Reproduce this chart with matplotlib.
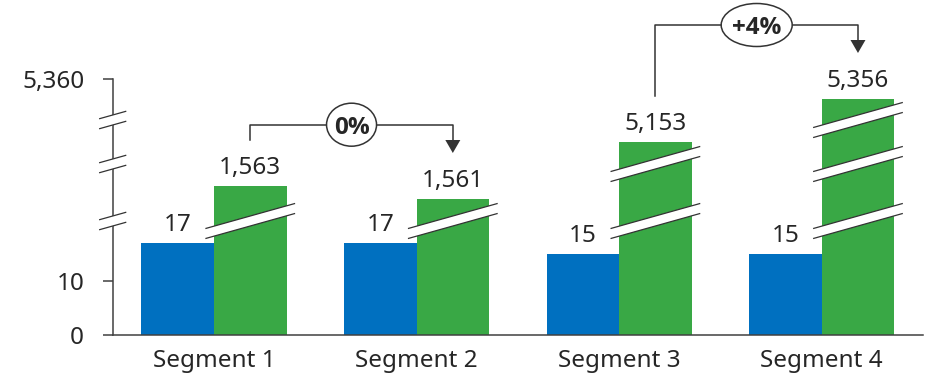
import numpy as np
import matplotlib
matplotlib.use('Agg')
import matplotlib.pyplot as plt
from matplotlib.patches import Polygon, Ellipse
from matplotlib.lines import Line2D
from matplotlib.transforms import IdentityTransform

segments = ['Segment 1', 'Segment 2', 'Segment 3', 'Segment 4']
small = [17, 17, 15, 15]
large = [1563, 1561, 5153, 5356]
change_pairs = [(0, 1), (2, 3)]
change_labels = ['0%', '+4%']
y_ticks = [0, 10, 5360]

# broken (think-cell style) value axis: value -> pixel height above zero
knot_vals = [0, 20, 1561, 1563, 5153, 5356, 5360]
knot_px = [0, 108.6, 136, 149.3, 192.7, 236, 256]
break_px = [114, 171, 215]

BLUE = '#0070C0'
GREEN = '#39A845'
DARK = '#262626'
LINE = '#404040'
FS = 17.5

plt.rcParams['font.family'] = ['Noto Sans', 'DejaVu Sans']
plt.rcParams['text.color'] = DARK


def fwd(v):
    return np.interp(v, knot_vals, knot_px)


def inv(h):
    return np.interp(h, knot_px, knot_vals)


W, H = 933, 382
fig = plt.figure(figsize=(W / 100, H / 100), dpi=100)
ax = fig.add_axes([112.7 / W, 47 / H, 810.3 / W, 256 / H])
ax.set_yscale('function', functions=(fwd, inv))
ax.set_xlim(-0.5, 3.5)
ax.set_ylim(0, 5360)

x = np.arange(len(segments))
w = 0.358
ax.bar(x - w / 2, small, w, color=BLUE, zorder=2)
ax.bar(x + w / 2, large, w, color=GREEN, zorder=2)

for xs, vals in ((x - w / 2, small), (x + w / 2, large)):
    for xi, v in zip(xs, vals):
        ax.annotate('{:,}'.format(v), (xi, v), xytext=(0, 8.6),
                    textcoords='offset points', ha='center', va='baseline',
                    fontsize=FS, color=DARK)

for s in ('top', 'right'):
    ax.spines[s].set_visible(False)
for s in ('left', 'bottom'):
    ax.spines[s].set_color(LINE)
    ax.spines[s].set_linewidth(1.1)

ax.set_yticks(y_ticks)
ax.set_yticklabels(['{:,}'.format(t) for t in y_ticks])
ax.yaxis.set_minor_locator(matplotlib.ticker.NullLocator())
ax.tick_params(axis='y', length=7, width=1.1, color=LINE, pad=13.5,
               labelsize=FS, labelcolor=DARK)
ax.set_xticks(x)
ax.set_xticklabels(segments)
ax.tick_params(axis='x', length=0, pad=10, labelsize=FS, labelcolor=DARK)

ident = IdentityTransform()
base_y = ax.transData.transform((0, 0))[1]


def draw_break(xc, yc, hw, slope=0.28, gap=10):
    lo = [(xc - hw, yc - slope * hw - gap / 2), (xc + hw, yc + slope * hw - gap / 2)]
    hi = [(xc - hw, yc - slope * hw + gap / 2), (xc + hw, yc + slope * hw + gap / 2)]
    fig.add_artist(Polygon(lo + hi[::-1], closed=True, facecolor='white',
                           edgecolor='none', transform=ident, zorder=3))
    for seg in (lo, hi):
        xs, ys = zip(*seg)
        fig.add_artist(Line2D(xs, ys, color='#333333', lw=0.9,
                              transform=ident, zorder=4))


# breaks on the axis
axis_x = ax.transData.transform((-0.5, 0))[0]
for b in break_px:
    draw_break(axis_x, base_y + b, 13)

# breaks on the tall bars
bar_half = (ax.transData.transform((w, 0))[0] - ax.transData.transform((0, 0))[0]) / 2
for xi, v in zip(x + w / 2, large):
    px, top = ax.transData.transform((xi, v))
    for b in break_px:
        if base_y + b < top - 8:
            draw_break(px, base_y + b, bar_half + 8)

# difference brackets
rises = [15, 28]
ell_w = [50, 71]
for (i, j), lab, rise, ew in zip(change_pairs, change_labels, rises, ell_w):
    xi, ti = ax.transData.transform((x[i] + w / 2, large[i]))
    xj, tj = ax.transData.transform((x[j] + w / 2, large[j]))
    start = ti + 46
    tip = tj + 46
    level = max(start, tip) + rise
    head_h, head_w = 13, 15
    fig.add_artist(Line2D([xi, xi, xj, xj], [start, level, level, tip + head_h],
                          color='#333333', lw=1.1, transform=ident, zorder=3))
    fig.add_artist(Polygon([(xj - head_w / 2, tip + head_h), (xj + head_w / 2, tip + head_h),
                            (xj, tip)], closed=True, facecolor='#333333',
                           edgecolor='none', transform=ident, zorder=3))
    xm = (xi + xj) / 2
    fig.add_artist(Ellipse((xm, level), ew, 43, facecolor='white', edgecolor='#333333',
                           lw=1.1, transform=ident, zorder=4))
    fig.text(xm, level, lab, transform=ident, ha='center', va='center_baseline',
             fontsize=17.5, fontweight='bold', color=DARK, zorder=5,
             family=['Open Sans', 'Roboto', 'DejaVu Sans'])

fig.savefig('out.png', dpi=100)
